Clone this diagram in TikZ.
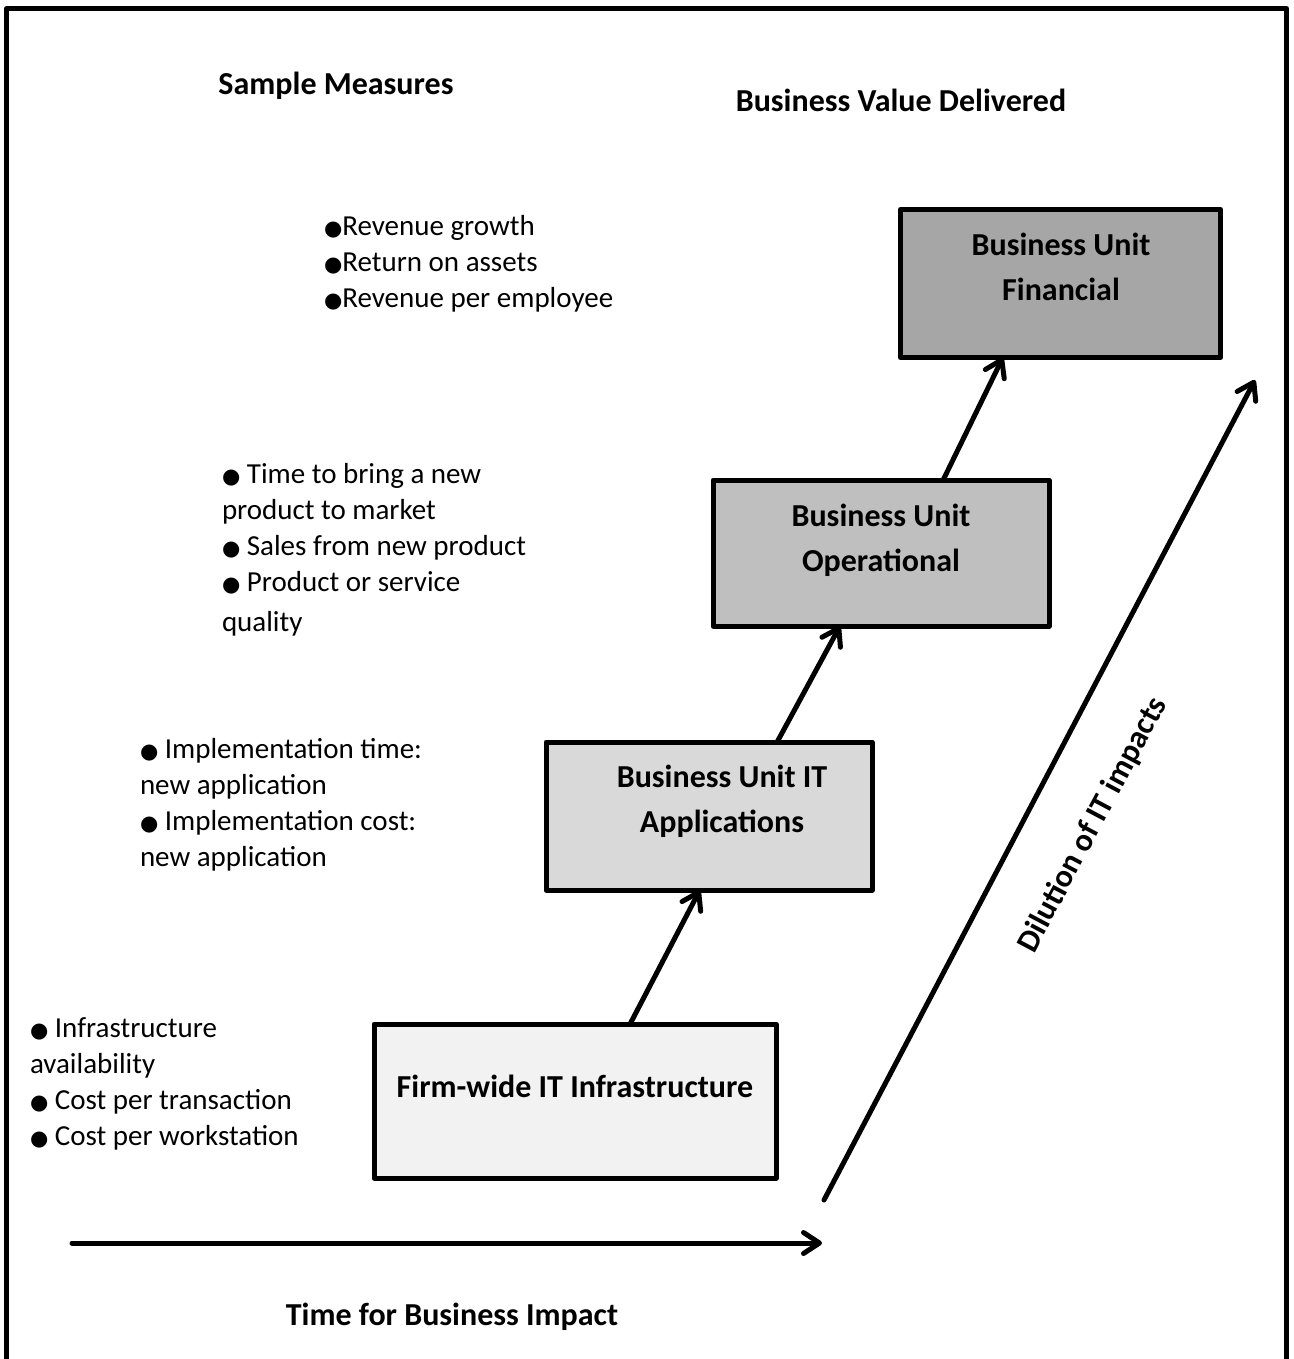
\documentclass[tikz,border=0pt]{standalone}
\usepackage{fontspec}
\setmainfont{Carlito}
\newfontfamily\dotfont{DejaVu Sans}
\usetikzlibrary{arrows.meta,calc}
\newcommand{\dotitem}{{\dotfont\fontsize{21}{21}\selectfont ●}}

\begin{document}
\begin{tikzpicture}[x=1pt,y=-1pt,
  every node/.style={inner sep=0pt, outer sep=0pt},
  % multi-line nodes are placed by the baseline of their last line
  measure/.style={font=\fontsize{29}{36}\selectfont, align=left, anchor=base west},
  heading/.style={font=\fontsize{32}{44}\selectfont\bfseries, anchor=base},
  stagebox/.style={draw, line width=5pt, line join=round},
  stagetext/.style={font=\fontsize{32}{45}\selectfont\bfseries, align=center, anchor=base},
  link/.style={line width=5pt, line cap=round,
    -{Straight Barb[length=16pt, width=21pt, round]}}]

\useasboundingbox (0,0) rectangle (1293,1359);

% outer frame, open at the bottom
\draw[line width=5pt, line join=round] (6.5,1370) -- (6.5,8.5) -- (1286.5,8.5) -- (1286.5,1370);

% headings
\node[heading] (hmeasures) at (336,95) {Sample Measures};
\node[heading] (hvalue) at (901,112) {Business Value Delivered};
\node[heading] (htime) at (452,1325) {Time for Business Impact};

% stages of business value
\node[stagebox, fill=black!35, minimum width=320pt, minimum height=148pt] (fin) at (1060.5,283.5) {};
\node[stagebox, fill=black!25, minimum width=336pt, minimum height=146pt] (ops) at (881,553) {};
\node[stagebox, fill=black!15, minimum width=326pt, minimum height=148pt] (app) at (709,816) {};
\node[stagebox, fill=black!5, minimum width=402pt, minimum height=154pt] (infra) at (575,1101) {};

\node[stagetext] (fintext) at (1061,300) {Business Unit\\Financial};
\node[stagetext] (opstext) at (881,571) {Business Unit\\Operational};
\node[stagetext] (apptext) at (722,832) {Business Unit IT\\Applications};
\node[stagetext] (infratext) at (575,1097) {Firm-wide IT Infrastructure};

% steps between stages
\draw[link] ($(infra.north west)!0.637!(infra.north east)$) -- ($(app.south west)!0.472!(app.south east)$);
\draw[link] ($(app.north west)!0.709!(app.north east)$) -- ($(ops.south west)!0.378!(ops.south east)$);
\draw[link] ($(ops.north west)!0.685!(ops.north east)$) -- ($(fin.south west)!0.32!(fin.south east)$);

% axes
\coordinate (t0) at (72,1243);
\coordinate (t1) at (822,1243);
\draw[link] (t0) -- (t1);
\coordinate (d0) at (824,1200);
\coordinate (d1) at (1255,380);
\draw[link] (d0) -- (d1);
\node[font=\fontsize{32}{40}\selectfont\bfseries, rotate=62] (dilution) at (1093,825) {Dilution of IT impacts};

% sample measures
\node[measure] (mfin) at (324,307) {\dotitem Revenue growth\\\dotitem Return on assets\\\dotitem Revenue per employee};
\node[measure] (mops) at (222,631) {\dotitem{} Time to bring a new\\product to market\\\dotitem{} Sales from new product\\\dotitem{} Product or service\\[4pt]quality};
\node[measure] (mapp) at (140,866) {\dotitem{} Implementation time:\\new application\\\dotitem{} Implementation cost:\\new application};
\node[measure] (minfra) at (30,1145) {\dotitem{} Infrastructure\\availability\\\dotitem{} Cost per transaction\\\dotitem{} Cost per workstation};

\end{tikzpicture}
\end{document}
